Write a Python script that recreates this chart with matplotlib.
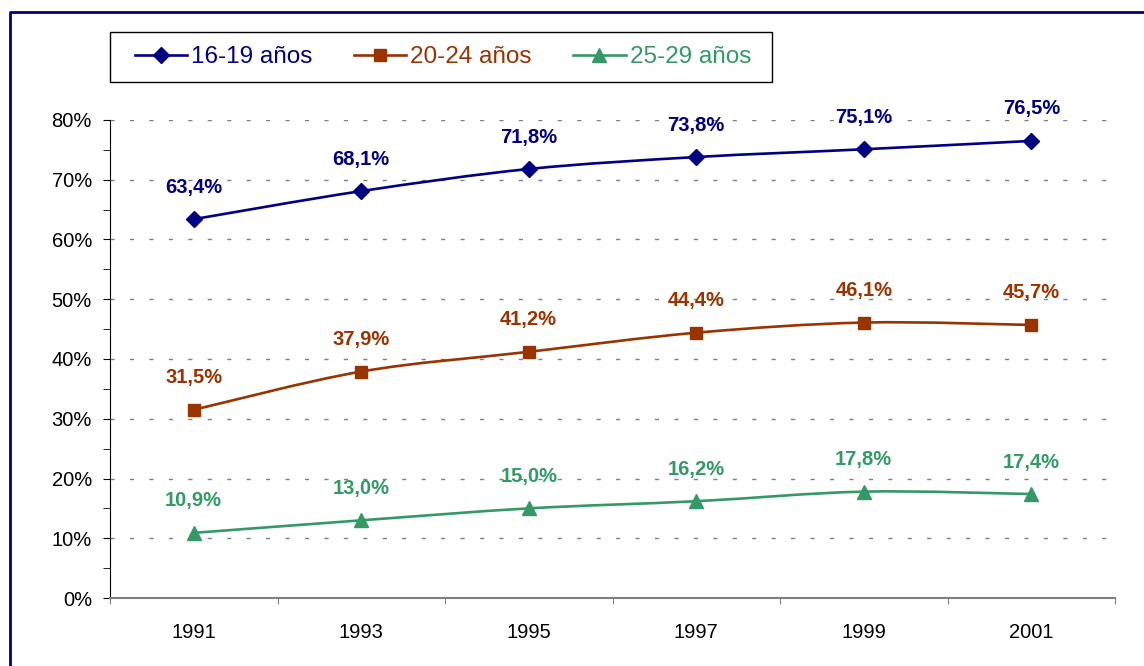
import numpy as np
import matplotlib
matplotlib.use('Agg')
import matplotlib.pyplot as plt
from matplotlib.path import Path
from matplotlib.patches import PathPatch, Rectangle
from matplotlib.lines import Line2D

plt.rcParams['font.family'] = ['Liberation Sans', 'DejaVu Sans']

years = ['1991', '1993', '1995', '1997', '1999', '2001']
edad_16_19 = [63.4, 68.1, 71.8, 73.8, 75.1, 76.5]
edad_20_24 = [31.5, 37.9, 41.2, 44.4, 46.1, 45.7]
edad_25_29 = [10.9, 13.0, 15.0, 16.2, 17.8, 17.4]
names = ['16-19 años', '20-24 años', '25-29 años']
yticks = [0, 10, 20, 30, 40, 50, 60, 70, 80]

colors = ['#000080', '#993300', '#339966']
markers = ['D', 's', '^']
msizes = [8.5, 8.5, 9.5]


def smooth_path(x, y):
    # excel-like smoothed line (catmull-rom as bezier)
    pts = np.column_stack([x, y]).astype(float)
    n = len(pts)
    verts = [pts[0]]
    codes = [Path.MOVETO]
    for i in range(n - 1):
        p0 = pts[max(i - 1, 0)]
        p1 = pts[i]
        p2 = pts[i + 1]
        p3 = pts[min(i + 2, n - 1)]
        verts += [p1 + (p2 - p0) / 6, p2 - (p3 - p1) / 6, p2]
        codes += [Path.CURVE4] * 3
    return Path(verts, codes)


fig = plt.figure(figsize=(11.44, 6.66), dpi=100)
ax = fig.add_axes([110 / 1144, 1 - 598 / 666, 1005 / 1144, 478 / 666])

x = np.arange(len(years))
handles = []
for vals, c, m, ms, name in zip([edad_16_19, edad_20_24, edad_25_29], colors, markers, msizes, names):
    ax.add_patch(PathPatch(smooth_path(x, vals), facecolor='none', edgecolor=c, lw=1.9, zorder=3))
    ax.plot(x, vals, linestyle='none', marker=m, ms=ms, color=c, zorder=4)
    for xi, v in zip(x, vals):
        ax.annotate(f"{v:.1f}".replace('.', ',') + '%', (xi, v), xytext=(0, 23),
                    textcoords='offset points', ha='center', va='center',
                    fontsize=14.5, fontweight='bold', color=c)
    handles.append(Line2D([], [], color=c, lw=1.9, marker=m, ms=ms))

ax.set_xlim(-0.5, 5.5)
ax.set_ylim(0, 80)
ax.set_xticks(np.arange(-0.5, 6, 1))
ax.set_xticklabels([])
ax.set_xticks(x, minor=True)
ax.set_xticklabels(years, minor=True)
ax.tick_params(axis='x', which='major', length=4, direction='out', color='#808080')
ax.tick_params(axis='x', which='minor', length=0, labelsize=14.5, pad=18)
ax.set_yticks(yticks)
ax.set_yticklabels([f"{t}%" for t in yticks])
ax.set_yticks(np.arange(5, 80, 10), minor=True)
ax.tick_params(axis='y', which='both', length=5, direction='out', labelsize=14.5, pad=8)

for t in yticks[1:]:
    ax.axhline(t, color='#808080', lw=1, linestyle=(0, (3, 11)), zorder=1)

ax.spines['top'].set_visible(False)
ax.spines['right'].set_visible(False)
ax.spines['left'].set_color('black')
ax.spines['bottom'].set_color('#808080')
ax.spines['bottom'].set_linewidth(1.5)

leg = fig.legend(handles, names, loc='center left', bbox_to_anchor=(135 / 1144, 1 - 57 / 666),
                 ncol=3, fontsize=17.5, frameon=False,
                 handlelength=2.15, handletextpad=0.17, columnspacing=1.7, borderpad=0,
                 borderaxespad=0)
for txt, c in zip(leg.get_texts(), colors):
    txt.set_color(c)
# legend box
fig.add_artist(Rectangle((110 / 1144, 1 - 82 / 666), 662 / 1144, 50 / 666,
                         transform=fig.transFigure, facecolor='none', edgecolor='black', lw=1))

# outer blue frame (cut off at right and bottom)
fig.add_artist(Line2D([10 / 1144, 10 / 1144, 1.01], [-0.01, 1 - 12 / 666, 1 - 12 / 666],
                      transform=fig.transFigure, color='#000080', lw=2))

fig.savefig('out.png', dpi=100)
